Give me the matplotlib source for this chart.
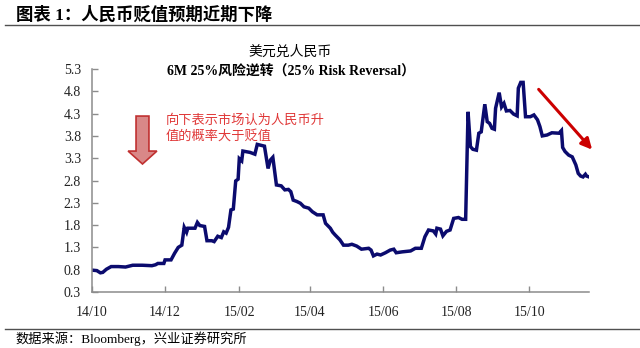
import matplotlib
matplotlib.use("Agg")
import matplotlib.pyplot as plt
import matplotlib.dates as mdates
from matplotlib.patches import FancyArrow
from matplotlib.lines import Line2D
import pandas as pd

plt.rcParams['font.family'] = ['Liberation Serif', 'Noto Sans CJK SC']

# 美元兑人民币 6M 25% 风险逆转
dates = [
    "2014-10-01", "2014-10-05", "2014-10-08", "2014-10-10", "2014-10-13", "2014-10-17",
    "2014-10-23", "2014-10-29", "2014-11-04", "2014-11-12", "2014-11-20", "2014-11-23",
    "2014-11-25", "2014-11-30", "2014-12-01", "2014-12-06", "2014-12-09", "2014-12-12",
    "2014-12-15", "2014-12-17", "2014-12-19", "2014-12-20", "2014-12-26", "2014-12-28",
    "2014-12-30", "2015-01-03", "2015-01-05", "2015-01-09", "2015-01-11", "2015-01-14",
    "2015-01-17", "2015-01-19", "2015-01-21", "2015-01-23", "2015-01-25", "2015-01-27",
    "2015-01-29", "2015-01-31", "2015-02-01", "2015-02-03", "2015-02-04", "2015-02-10",
    "2015-02-14", "2015-02-16", "2015-02-19", "2015-02-22", "2015-02-25", "2015-02-27",
    "2015-03-01", "2015-03-04", "2015-03-08", "2015-03-11", "2015-03-14", "2015-03-16",
    "2015-03-18", "2015-03-21", "2015-03-24", "2015-03-27", "2015-03-31", "2015-04-03",
    "2015-04-07", "2015-04-12", "2015-04-14", "2015-04-18", "2015-04-20", "2015-04-22",
    "2015-04-26", "2015-04-29", "2015-05-03", "2015-05-06", "2015-05-10", "2015-05-14",
    "2015-05-20", "2015-05-22", "2015-05-24", "2015-05-27", "2015-05-30", "2015-06-03",
    "2015-06-07", "2015-06-10", "2015-06-12", "2015-06-17", "2015-06-24", "2015-06-28",
    "2015-07-03", "2015-07-06", "2015-07-09", "2015-07-13", "2015-07-15", "2015-07-16",
    "2015-07-19", "2015-07-21", "2015-07-24", "2015-07-27", "2015-07-30", "2015-08-03",
    "2015-08-06", "2015-08-09", "2015-08-11", "2015-08-13", "2015-08-15", "2015-08-18",
    "2015-08-20", "2015-08-22", "2015-08-25", "2015-08-27", "2015-08-29", "2015-08-31",
    "2015-09-02", "2015-09-03", "2015-09-06", "2015-09-08", "2015-09-10", "2015-09-12",
    "2015-09-15", "2015-09-18", "2015-09-21", "2015-09-22", "2015-09-24", "2015-09-26",
    "2015-09-28", "2015-10-02", "2015-10-05", "2015-10-08", "2015-10-10", "2015-10-12",
    "2015-10-16", "2015-10-20", "2015-10-26", "2015-10-28", "2015-10-29", "2015-10-31",
    "2015-11-03", "2015-11-06", "2015-11-09", "2015-11-11", "2015-11-13", "2015-11-15",
    "2015-11-17", "2015-11-18", "2015-11-20",
]
rr = [
    0.79, 0.78, 0.73, 0.74, 0.81, 0.87,
    0.87, 0.86, 0.90, 0.90, 0.89, 0.91,
    0.94, 0.94, 1.02, 1.02, 1.17, 1.30,
    1.35, 1.75, 1.64, 1.73, 1.73, 1.86,
    1.79, 1.77, 1.45, 1.45, 1.43, 1.55,
    1.52, 1.65, 1.62, 1.75, 2.14, 2.16,
    2.79, 2.83, 3.29, 3.24, 3.46, 3.43,
    3.39, 3.61, 3.59, 3.57, 3.07, 3.26,
    3.32, 2.70, 2.68, 2.59, 2.60, 2.55,
    2.36, 2.33, 2.29, 2.21, 2.18, 2.10,
    2.03, 2.03, 1.84, 1.73, 1.64, 1.58,
    1.47, 1.35, 1.35, 1.37, 1.33, 1.26,
    1.28, 1.24, 1.11, 1.15, 1.13, 1.18,
    1.24, 1.26, 1.18, 1.20, 1.22, 1.28,
    1.28, 1.54, 1.69, 1.67, 1.60, 1.73,
    1.71, 1.56, 1.66, 1.69, 1.95, 1.97,
    1.93, 1.93, 4.34, 3.56, 3.50, 3.48,
    3.86, 3.89, 4.51, 4.12, 4.08, 3.97,
    3.95, 4.42, 4.77, 4.45, 4.53, 4.36,
    4.37, 4.29, 4.25, 4.87, 5.00, 5.00,
    4.23, 4.23, 4.27, 4.16, 4.01, 3.80,
    3.82, 3.87, 3.86, 3.92, 3.54, 3.45,
    3.37, 3.33, 3.15, 2.96, 2.90, 2.88,
    2.94, 2.90, 2.88,
]

x_debut = "2014-10-01"
x_fin = "2015-11-20"
y_ticks = [0.3, 0.8, 1.3, 1.8, 2.3, 2.8, 3.3, 3.8, 4.3, 4.8, 5.3]

titre = "图表 1：人民币贬值预期近期下降"
titre_1 = "美元兑人民币"
titre_2 = "6M 25%风险逆转（25% Risk Reversal）"
note = "向下表示市场认为人民币升\n值的概率大于贬值"
source = "数据来源：Bloomberg，兴业证券研究所"

W, H = 640, 348
fig = plt.figure(figsize=(6.4, 3.48), dpi=100)
ax = fig.add_axes([92 / W, 1 - 292 / H, (589 - 92) / W, (292 - 69) / H])

ax.plot(pd.to_datetime(dates), rr, color="#0b0b6e", lw=2.5, solid_joinstyle="miter")

ax.set_xlim(pd.Timestamp(x_debut), pd.Timestamp(x_fin))
ax.set_ylim(0.3, 5.3)
ax.set_yticks(y_ticks)
ax.yaxis.set_major_formatter(plt.FormatStrFormatter("%.1f"))
ax.xaxis.set_major_locator(mdates.MonthLocator(bymonth=[2, 4, 6, 8, 10, 12]))
ax.xaxis.set_major_formatter(mdates.DateFormatter("%y/%m"))

for s in ["top", "right"]:
    ax.spines[s].set_visible(False)
for s in ["left", "bottom"]:
    ax.spines[s].set_color("#8c8c8c")
    ax.spines[s].set_linewidth(1.1)
ax.tick_params(direction="in", length=4, width=1, color="#8c8c8c",
               labelsize=10, labelcolor="#222222")
ax.tick_params(axis="y", pad=8)
ax.tick_params(axis="x", pad=10)

# flèche bloc à gauche
fleche = FancyArrow(0.1016, 0.789, 0, -0.215, width=0.026, head_width=0.058,
                    head_length=0.058, length_includes_head=True,
                    transform=ax.transAxes, facecolor="#d98888",
                    edgecolor="#c03030", lw=1.2, clip_on=False)
ax.add_patch(fleche)
ax.text(0.149, 0.795, note, transform=ax.transAxes, color="#e03838",
        fontsize=9.5, va="top", ha="left", linespacing=1.25)

# flèche rouge à droite
ax.annotate("", xy=(1.010, 0.629), xytext=(0.895, 0.918), xycoords="axes fraction",
            arrowprops=dict(arrowstyle="-|>", color="#cc0000", lw=2.2,
                            mutation_scale=16), annotation_clip=False)

fig.text(16 / W, 1 - 15 / H, titre, fontsize=12.5, fontweight="bold", va="center", ha="left")
fig.add_artist(Line2D([5 / W, 1], [1 - 24.5 / H] * 2, color="#505050", lw=1))
fig.text(290 / W, 1 - 52 / H, titre_1, fontsize=10, va="center", ha="center")
fig.text(291 / W, 1 - 72 / H, titre_2, fontsize=10, fontweight="bold", va="center", ha="center")
fig.add_artist(Line2D([5 / W, 1], [1 - 329 / H] * 2, color="#505050", lw=1))
fig.text(15 / W, 1 - 339 / H, source, fontsize=9.5, va="center", ha="left")

fig.savefig("out.png", dpi=100)
